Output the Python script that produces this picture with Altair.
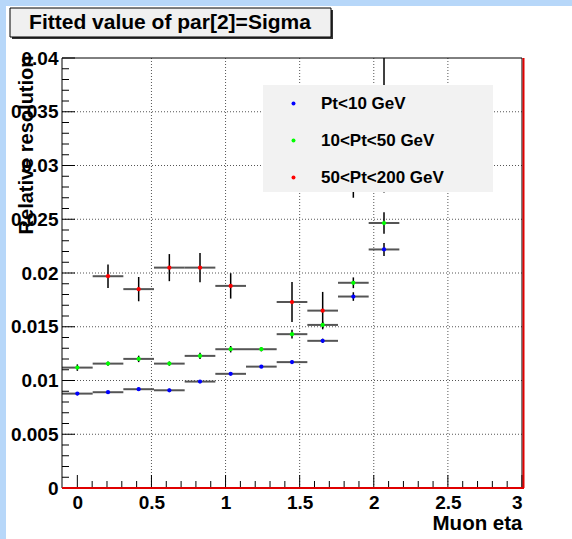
import altair as alt
import pandas as pd

# ---------------- data ----------------
eta = [0.0, 0.2069, 0.4138, 0.6207, 0.8276, 1.0345, 1.2414, 1.4483, 1.6552, 1.8621, 2.0690]
half_bin = 0.1035

blue_vals = [0.00878, 0.00891, 0.00919, 0.00909, 0.00990, 0.01062, 0.01129, 0.01171, 0.01369, 0.01781, 0.02219]
blue_errs = [0.00015, 0.00012, 0.00015, 0.00015, 0.00012, 0.00012, 0.00012, 0.00015, 0.00020, 0.00040, 0.00060]

green_vals = [0.01120, 0.01157, 0.01201, 0.01157, 0.01229, 0.01291, 0.01291, 0.01431, 0.01517, 0.01909, 0.02465]
green_errs = [0.00030, 0.00020, 0.00030, 0.00020, 0.00030, 0.00030, 0.00020, 0.00040, 0.00030, 0.00050, 0.00100]

red_eta = [0.2069, 0.4138, 0.6207, 0.8276, 1.0345, 1.4483, 1.6552, 1.8621, 2.0690]
red_vals = [0.0197, 0.0185, 0.0205, 0.0205, 0.0188, 0.0173, 0.0165, 0.0295, 0.0345]
red_errs = [0.00110, 0.00113, 0.00126, 0.00137, 0.00118, 0.00186, 0.00174, 0.0025, 0.0070]

series = ["Pt<10 GeV", "10<Pt<50 GeV", "50<Pt<200 GeV"]
colors = ["#0000ff", "#00ff00", "#ff0000"]

x_major = [0, 0.5, 1, 1.5, 2, 2.5, 3]
y_major = [0, 0.005, 0.01, 0.015, 0.02, 0.025, 0.03, 0.035, 0.04]
x_minor = [round(i * 0.1, 1) for i in range(0, 31) if i % 5 != 0]
y_minor = [round(i * 0.001, 3) for i in range(0, 41) if i % 5 != 0]

title_text = "Fitted value of par[2]=Sigma"
x_title = "Muon eta"
y_title = "Relative resolution"

# ---------------- table ----------------
rows = []
for name, xs, vs, es in [
    (series[0], eta, blue_vals, blue_errs),
    (series[1], eta, green_vals, green_errs),
    (series[2], red_eta, red_vals, red_errs),
]:
    for x, v, e in zip(xs, vs, es):
        rows.append({"series": name, "eta": x, "val": v, "lo": v - e, "hi": v + e,
                     "xlo": x - half_bin, "xhi": x + half_bin})
df = pd.DataFrame(rows)

W, H = 460, 430
FONT = "Liberation Sans"

xs = alt.Scale(domain=[-0.1035, 3], nice=False, zero=False)
ys = alt.Scale(domain=[0, 0.04], nice=False, zero=False)

xaxis = alt.Axis(values=x_major, format="~g", labelFont=FONT, labelFontSize=19,
                 labelFontWeight="bold", labelColor="black", labelPadding=5,
                 ticks=False, tickSize=0, domain=False, grid=False, zindex=1,
                 labelOverlap=False, title=x_title, titleFont=FONT, titleFontSize=20.5,
                 titleFontWeight="bold", titleColor="black", titleX=W, titleY=35,
                 titleAlign="right", titleBaseline="middle")
yaxis = alt.Axis(values=y_major, format="~g", labelFont=FONT, labelFontSize=19,
                 labelFontWeight="bold", labelColor="black", labelPadding=4,
                 ticks=False, tickSize=0, domain=False, grid=False, zindex=1,
                 labelOverlap=False, title=y_title, titleFont=FONT, titleFontSize=20,
                 titleFontWeight="bold", titleColor="black", titleX=-36, titleY=-3,
                 titleAngle=270, titleAlign="right", titleBaseline="middle")


def X(field):
    return alt.X(field, type="quantitative", scale=xs, axis=xaxis)


def Y(field):
    return alt.Y(field, type="quantitative", scale=ys, axis=yaxis)


one = pd.DataFrame({"t": [title_text]})

# white page area (the window's blue frame shows on top/left)
page = alt.Chart(one).mark_rect(fill="white").encode(
    x=alt.value(-56), x2=alt.value(W + 60), y=alt.value(-52), y2=alt.value(H + 60))

# title box with shadow
shadow = alt.Chart(one).mark_rect(fill="#333333").encode(
    x=alt.value(-50), x2=alt.value(271), y=alt.value(-48), y2=alt.value(-19))
tbox = alt.Chart(one).mark_rect(fill="#f0f0f0", stroke="black", strokeWidth=1).encode(
    x=alt.value(-52), x2=alt.value(269), y=alt.value(-50), y2=alt.value(-21))
ttext = alt.Chart(one).mark_text(font=FONT, fontSize=21, fontWeight="bold", color="black",
                                 align="center", baseline="middle").encode(
    x=alt.value(108), y=alt.value(-35), text="t:N")

# grid
gx = pd.DataFrame({"g": x_major[1:-1]})
gy = pd.DataFrame({"g": y_major[1:-1]})
grid_x = alt.Chart(gx).mark_rule(color="#555555", strokeWidth=1, strokeDash=[1, 2]).encode(
    x=X("g"), y=alt.value(0), y2=alt.value(H))
grid_y = alt.Chart(gy).mark_rule(color="#555555", strokeWidth=1, strokeDash=[1, 2]).encode(
    y=Y("g"), x=alt.value(0), x2=alt.value(W))

# inward ticks
tx_major = alt.Chart(pd.DataFrame({"g": x_major})).mark_rule(color="black").encode(
    x=X("g"), y=alt.value(H), y2=alt.value(H - 13))
tx_minor = alt.Chart(pd.DataFrame({"g": x_minor})).mark_rule(color="black").encode(
    x=X("g"), y=alt.value(H), y2=alt.value(H - 7))
ty_major = alt.Chart(pd.DataFrame({"g": y_major})).mark_rule(color="black").encode(
    y=Y("g"), x=alt.value(0), x2=alt.value(13))
ty_minor = alt.Chart(pd.DataFrame({"g": y_minor})).mark_rule(color="black").encode(
    y=Y("g"), x=alt.value(0), x2=alt.value(7))

# error bars
hbars = alt.Chart(df).mark_rule(color="#555555", strokeWidth=2, clip=True).encode(
    x=X("xlo"), x2="xhi", y=Y("val"))
vbars = alt.Chart(df).mark_rule(color="black", strokeWidth=1.5, clip=True).encode(
    x=X("eta"), y=Y("lo"), y2="hi")

points = alt.Chart(df).mark_point(filled=True, shape="circle", size=18, opacity=1, clip=True).encode(
    x=X("eta"), y=Y("val"),
    color=alt.Color("series:N", scale=alt.Scale(domain=series, range=colors),
                    legend=alt.Legend(orient="none", legendX=201, legendY=27,
                                      padding=10, rowPadding=19,
                                      symbolOffset=12, labelOffset=19, symbolType="circle",
                                      symbolSize=16, symbolStrokeWidth=0,
                                      labelFont=FONT, labelFontSize=17, labelFontWeight="bold",
                                      labelColor="black", labelLimit=400, title=None)))

# legend box (opaque, covers what lies beneath it)
legend_box = alt.Chart(one).mark_rect(fill="#f2f2f2").encode(
    x=alt.value(201), x2=alt.value(431), y=alt.value(27), y2=alt.value(134))

# frame
frame = alt.Chart(one).mark_rect(fillOpacity=0, stroke="black", strokeWidth=1).encode(
    x=alt.value(0), x2=alt.value(W), y=alt.value(0), y2=alt.value(H))

# red histogram edges (bottom and right)
red_bottom = alt.Chart(one).mark_rule(color="#e00000", strokeWidth=2).encode(
    y=alt.datum(0, scale=ys), x=alt.value(0), x2=alt.value(W + 2))
red_right = alt.Chart(one).mark_rule(color="#e00000", strokeWidth=2).encode(
    x=alt.value(W + 1.5), y=alt.value(0), y2=alt.value(H))

chart = alt.layer(
    page, shadow, tbox, ttext, grid_x, grid_y, tx_major, tx_minor, ty_major, ty_minor,
    hbars, vbars, points, legend_box, frame, red_bottom, red_right
).properties(
    width=W, height=H,
    padding={"left": 62, "top": 58, "right": 50, "bottom": 51},
    autosize=alt.AutoSizeParams(type="none"),
    background="#b7d7f9",
).configure_view(strokeWidth=0)

chart.save("out.html", embed_options={"renderer": "svg", "actions": False})
